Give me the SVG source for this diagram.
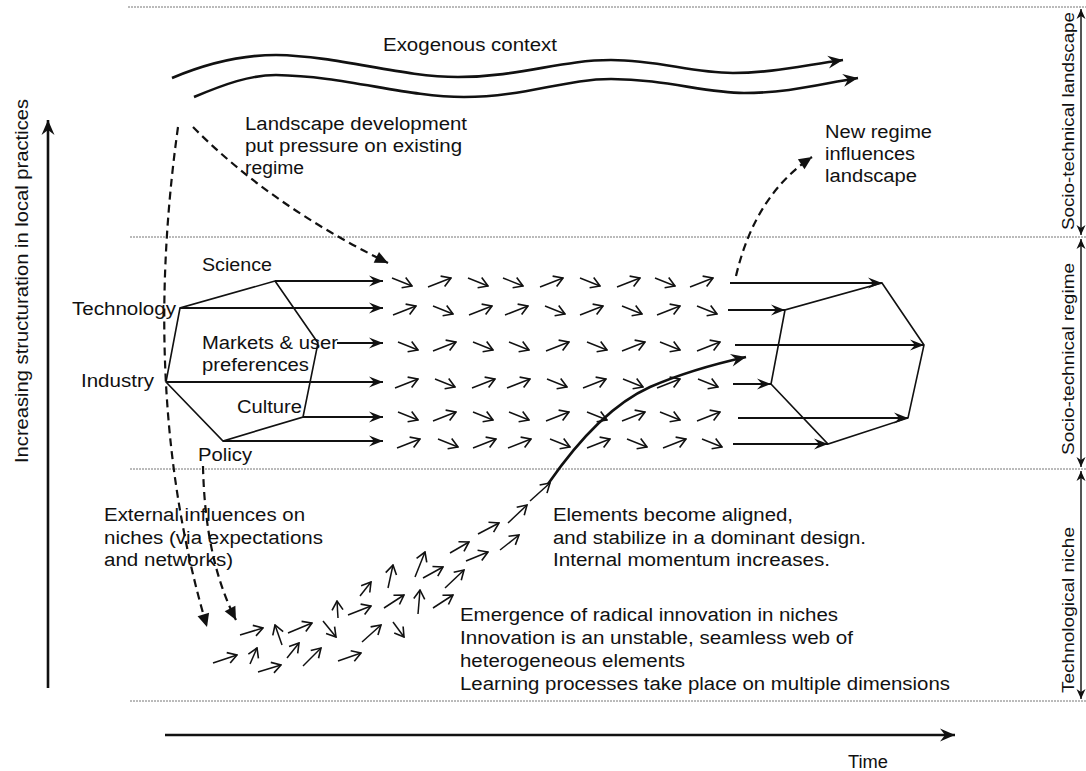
<svg xmlns="http://www.w3.org/2000/svg" width="1086" height="771" viewBox="0 0 1086 771">
<defs>
<style>
text{font-family:"Liberation Sans",Arial,sans-serif;font-size:18px;fill:#111}
.v{font-size:17px}
.dot{stroke:#777;stroke-width:1;stroke-dasharray:2 1;fill:none}
.ln{stroke:#111;stroke-width:1.6;fill:none}
.ar{stroke:#111;stroke-width:1.8;fill:none;marker-end:url(#ah)}
.sm{stroke:#111;stroke-width:1.5;fill:none;marker-end:url(#oh)}
.dash{stroke:#111;stroke-width:2.2;fill:none;stroke-dasharray:8 5;marker-end:url(#dh)}
.wave{stroke:#111;stroke-width:2.6;fill:none;marker-end:url(#wh)}
.thick{stroke:#111;stroke-width:2.6;fill:none;marker-end:url(#wh)}
.side{stroke:#555;stroke-width:2;fill:none;marker-start:url(#vh);marker-end:url(#vh)}
</style>
<marker id="ah" viewBox="-16 -7 17 14" refX="0" refY="0" markerWidth="17" markerHeight="14" markerUnits="userSpaceOnUse" orient="auto"><path d="M0,0 L-14,-5.5 L-9,0 L-14,5.5 Z" fill="#111"/></marker>
<marker id="oh" viewBox="-12 -8 13 16" refX="0" refY="0" markerWidth="13" markerHeight="16" markerUnits="userSpaceOnUse" orient="auto"><path d="M-9,-5.5 L0,0 L-9,5.5" fill="none" stroke="#111" stroke-width="1.6"/></marker>
<marker id="dh" viewBox="-15 -8 16 16" refX="0" refY="0" markerWidth="16" markerHeight="16" markerUnits="userSpaceOnUse" orient="auto"><path d="M0,0 L-13,-6 L-13,6 Z" fill="#111"/></marker>
<marker id="wh" viewBox="-17 -8 18 16" refX="0" refY="0" markerWidth="18" markerHeight="16" markerUnits="userSpaceOnUse" orient="auto"><path d="M0,0 L-15,-6.5 L-10,0 L-15,6.5 Z" fill="#111"/></marker>
<marker id="vh" viewBox="-12 -6 13 12" refX="0" refY="0" markerWidth="13" markerHeight="12" markerUnits="userSpaceOnUse" orient="auto-start-reverse"><path d="M0,0 L-10,-4.5 L-7,0 L-10,4.5 Z" fill="#111"/></marker>
</defs>
<rect width="1086" height="771" fill="#fff"/>

<g id="bands">
<line class="dot" x1="128" y1="7" x2="1086" y2="7"/>
<line class="dot" x1="130" y1="237" x2="1086" y2="237"/>
<line class="dot" x1="130" y1="469" x2="1086" y2="469"/>
<line class="dot" x1="130" y1="701" x2="1086" y2="701"/>
</g>

<g id="level-labels">
<line class="side" x1="1081" y1="9" x2="1081" y2="235"/>
<line class="side" x1="1081" y1="239" x2="1081" y2="467"/>
<line class="side" x1="1081" y1="471" x2="1081" y2="699"/>
<text class="v" transform="translate(1074,121) rotate(-90)" text-anchor="middle" textLength="218" lengthAdjust="spacingAndGlyphs">Socio-technical landscape</text>
<text class="v" transform="translate(1074,359) rotate(-90)" text-anchor="middle" textLength="192" lengthAdjust="spacingAndGlyphs">Socio-technical regime</text>
<text class="v" transform="translate(1074,610) rotate(-90)" text-anchor="middle" textLength="166" lengthAdjust="spacingAndGlyphs">Technological niche</text>
</g>

<g id="axes">
<line class="thick" x1="48" y1="688" x2="48" y2="120"/>
<text transform="translate(28,281) rotate(-90)" text-anchor="middle" textLength="364" lengthAdjust="spacingAndGlyphs">Increasing structuration in local practices</text>
<line class="thick" x1="165" y1="735" x2="955" y2="735"/>
<text x="848" y="768" textLength="40" lengthAdjust="spacingAndGlyphs">Time</text>
</g>

<g id="exogenous-context">
<text x="383" y="51" textLength="174" lengthAdjust="spacingAndGlyphs">Exogenous context</text>
<path class="wave" d="M172,78 C210,62 245,55 276,55 C340,56 400,77 458,77 C520,77 560,60 611,60 C660,60 690,73 733,73 C770,73 800,66 843,60"/>
<path class="wave" d="M194,97 C225,84 250,75 276,75 C345,76 405,97 464,97 C525,97 565,79 611,79 C665,79 705,93 744,93 C790,93 820,84 858,78"/>
</g>

<g id="landscape-pressure-label">
<text x="245" y="130" textLength="222" lengthAdjust="spacingAndGlyphs">Landscape development</text>
<text x="245" y="152" textLength="217" lengthAdjust="spacingAndGlyphs">put pressure on existing</text>
<text x="245" y="174" textLength="59" lengthAdjust="spacingAndGlyphs">regime</text>
</g>

<g id="new-regime-label">
<text x="825" y="138" textLength="107" lengthAdjust="spacingAndGlyphs">New regime</text>
<text x="825" y="160" textLength="90" lengthAdjust="spacingAndGlyphs">influences</text>
<text x="825" y="182" textLength="92" lengthAdjust="spacingAndGlyphs">landscape</text>
</g>

<g id="old-regime">
<polygon class="ln" points="275,281 180,308 166,382 223,441 303,417 318,343"/>
<text x="202" y="271" textLength="70" lengthAdjust="spacingAndGlyphs">Science</text>
<text x="72" y="315" textLength="104" lengthAdjust="spacingAndGlyphs">Technology</text>
<text x="202" y="349" textLength="136" lengthAdjust="spacingAndGlyphs">Markets &amp; user</text>
<text x="202" y="371" textLength="107" lengthAdjust="spacingAndGlyphs">preferences</text>
<text x="81" y="387" textLength="73" lengthAdjust="spacingAndGlyphs">Industry</text>
<text x="237" y="413" textLength="65" lengthAdjust="spacingAndGlyphs">Culture</text>
<text x="198" y="461" textLength="54" lengthAdjust="spacingAndGlyphs">Policy</text>
</g>

<g id="new-regime">
<polygon class="ln" points="882,283 924,345 908,418 828,444 771,384 785,310"/>
</g>

<g id="niche-labels">
<text x="104" y="521" textLength="201" lengthAdjust="spacingAndGlyphs">External influences on</text>
<text x="104" y="544" textLength="219" lengthAdjust="spacingAndGlyphs">niches (via expectations</text>
<text x="104" y="566" textLength="129" lengthAdjust="spacingAndGlyphs">and networks)</text>
<text x="553" y="521" textLength="240" lengthAdjust="spacingAndGlyphs">Elements become aligned,</text>
<text x="553" y="544" textLength="313" lengthAdjust="spacingAndGlyphs">and stabilize in a dominant design.</text>
<text x="553" y="566" textLength="277" lengthAdjust="spacingAndGlyphs">Internal momentum increases.</text>
<text x="460" y="621" textLength="378" lengthAdjust="spacingAndGlyphs">Emergence of radical innovation in niches</text>
<text x="460" y="644" textLength="393" lengthAdjust="spacingAndGlyphs">Innovation is an unstable, seamless web of</text>
<text x="460" y="667" textLength="225" lengthAdjust="spacingAndGlyphs">heterogeneous elements</text>
<text x="460" y="690" textLength="490" lengthAdjust="spacingAndGlyphs">Learning processes take place on multiple dimensions</text>
</g>

<g id="connectors">
<line class="ar" x1="275" y1="281" x2="383" y2="281"/>
<line class="ar" x1="180" y1="308" x2="383" y2="308"/>
<line class="ar" x1="337" y1="343" x2="383" y2="343"/>
<line class="ar" x1="166" y1="382" x2="383" y2="382"/>
<line class="ar" x1="303" y1="417" x2="383" y2="417"/>
<line class="ar" x1="223" y1="441" x2="383" y2="441"/>
<line class="ar" x1="730" y1="283" x2="882" y2="283"/>
<line class="ar" x1="728" y1="310" x2="785" y2="310"/>
<line class="ar" x1="735" y1="345" x2="924" y2="345"/>
<line class="ar" x1="733" y1="384" x2="771" y2="384"/>
<line class="ar" x1="738" y1="418" x2="908" y2="418"/>
<line class="ar" x1="733" y1="444" x2="828" y2="444"/>

<line class="sm" x1="392" y1="278" x2="412" y2="286"/>
<line class="sm" x1="428" y1="287" x2="451" y2="278"/>
<line class="sm" x1="468" y1="278" x2="488" y2="286"/>
<line class="sm" x1="503" y1="278" x2="523" y2="286"/>
<line class="sm" x1="540" y1="287" x2="563" y2="278"/>
<line class="sm" x1="580" y1="278" x2="600" y2="286"/>
<line class="sm" x1="617" y1="287" x2="640" y2="278"/>
<line class="sm" x1="655" y1="278" x2="675" y2="286"/>
<line class="sm" x1="690" y1="287" x2="713" y2="278"/>

<line class="sm" x1="393" y1="315" x2="416" y2="306"/>
<line class="sm" x1="433" y1="306" x2="453" y2="314"/>
<line class="sm" x1="469" y1="315" x2="492" y2="306"/>
<line class="sm" x1="505" y1="315" x2="528" y2="306"/>
<line class="sm" x1="545" y1="306" x2="565" y2="314"/>
<line class="sm" x1="580" y1="315" x2="603" y2="306"/>
<line class="sm" x1="622" y1="306" x2="642" y2="314"/>
<line class="sm" x1="657" y1="315" x2="680" y2="306"/>
<line class="sm" x1="697" y1="306" x2="717" y2="314"/>

<line class="sm" x1="398" y1="342" x2="418" y2="350"/>
<line class="sm" x1="433" y1="351" x2="456" y2="342"/>
<line class="sm" x1="473" y1="342" x2="493" y2="350"/>
<line class="sm" x1="509" y1="342" x2="529" y2="350"/>
<line class="sm" x1="546" y1="351" x2="569" y2="342"/>
<line class="sm" x1="587" y1="342" x2="607" y2="350"/>
<line class="sm" x1="622" y1="351" x2="645" y2="342"/>
<line class="sm" x1="660" y1="342" x2="680" y2="350"/>
<line class="sm" x1="697" y1="351" x2="720" y2="342"/>

<line class="sm" x1="395" y1="388" x2="418" y2="379"/>
<line class="sm" x1="435" y1="379" x2="455" y2="387"/>
<line class="sm" x1="472" y1="388" x2="495" y2="379"/>
<line class="sm" x1="507" y1="388" x2="530" y2="379"/>
<line class="sm" x1="547" y1="379" x2="567" y2="387"/>
<line class="sm" x1="583" y1="388" x2="606" y2="379"/>
<line class="sm" x1="623" y1="379" x2="643" y2="387"/>
<line class="sm" x1="657" y1="388" x2="680" y2="379"/>
<line class="sm" x1="698" y1="379" x2="718" y2="387"/>

<line class="sm" x1="398" y1="412" x2="418" y2="420"/>
<line class="sm" x1="433" y1="421" x2="456" y2="412"/>
<line class="sm" x1="473" y1="412" x2="493" y2="420"/>
<line class="sm" x1="509" y1="412" x2="529" y2="420"/>
<line class="sm" x1="546" y1="421" x2="569" y2="412"/>
<line class="sm" x1="587" y1="412" x2="607" y2="420"/>
<line class="sm" x1="622" y1="421" x2="645" y2="412"/>
<line class="sm" x1="660" y1="412" x2="680" y2="420"/>
<line class="sm" x1="697" y1="421" x2="720" y2="412"/>

<line class="sm" x1="397" y1="448" x2="420" y2="439"/>
<line class="sm" x1="438" y1="439" x2="458" y2="447"/>
<line class="sm" x1="473" y1="448" x2="496" y2="439"/>
<line class="sm" x1="508" y1="448" x2="531" y2="439"/>
<line class="sm" x1="550" y1="439" x2="570" y2="447"/>
<line class="sm" x1="587" y1="448" x2="610" y2="439"/>
<line class="sm" x1="627" y1="439" x2="647" y2="447"/>
<line class="sm" x1="663" y1="448" x2="686" y2="439"/>
<line class="sm" x1="702" y1="439" x2="722" y2="447"/>

<line class="sm" x1="240" y1="635" x2="263" y2="628"/>
<line class="sm" x1="282" y1="645" x2="275" y2="625"/>
<line class="sm" x1="288" y1="633" x2="312" y2="623"/>
<line class="sm" x1="323" y1="621" x2="336" y2="637"/>
<line class="sm" x1="338" y1="618" x2="337" y2="601"/>
<line class="sm" x1="348" y1="615" x2="371" y2="606"/>
<line class="sm" x1="360" y1="596" x2="371" y2="582"/>
<line class="sm" x1="388" y1="588" x2="393" y2="565"/>
<line class="sm" x1="384" y1="608" x2="404" y2="595"/>
<line class="sm" x1="418" y1="614" x2="420" y2="590"/>
<line class="sm" x1="393" y1="622" x2="404" y2="637"/>
<line class="sm" x1="362" y1="642" x2="381" y2="625"/>
<line class="sm" x1="213" y1="663" x2="237" y2="655"/>
<line class="sm" x1="250" y1="664" x2="257" y2="648"/>
<line class="sm" x1="258" y1="672" x2="281" y2="665"/>
<line class="sm" x1="287" y1="658" x2="299" y2="643"/>
<line class="sm" x1="303" y1="666" x2="321" y2="648"/>
<line class="sm" x1="338" y1="661" x2="361" y2="653"/>
<line class="sm" x1="415" y1="577" x2="425" y2="552"/>
<line class="sm" x1="423" y1="578" x2="443" y2="567"/>
<line class="sm" x1="445" y1="588" x2="464" y2="570"/>
<line class="sm" x1="433" y1="608" x2="453" y2="595"/>
<line class="sm" x1="450" y1="553" x2="469" y2="542"/>
<line class="sm" x1="466" y1="561" x2="488" y2="552"/>
<line class="sm" x1="478" y1="534" x2="499" y2="523"/>
<line class="sm" x1="500" y1="550" x2="519" y2="535"/>
<line class="sm" x1="508" y1="523" x2="527" y2="505"/>
<line class="sm" x1="530" y1="501" x2="550" y2="483"/>

<path class="thick" d="M548,484 C575,445 610,405 650,387 C680,374 710,365 746,357"/>

<path class="dash" d="M178,127 Q140,400 207,627"/>
<path class="dash" d="M203,466 Q205,560 236,620"/>
<path class="dash" d="M193,127 Q270,205 388,263"/>
<path class="dash" d="M736,276 Q755,195 812,157"/>
</g>
</svg>
